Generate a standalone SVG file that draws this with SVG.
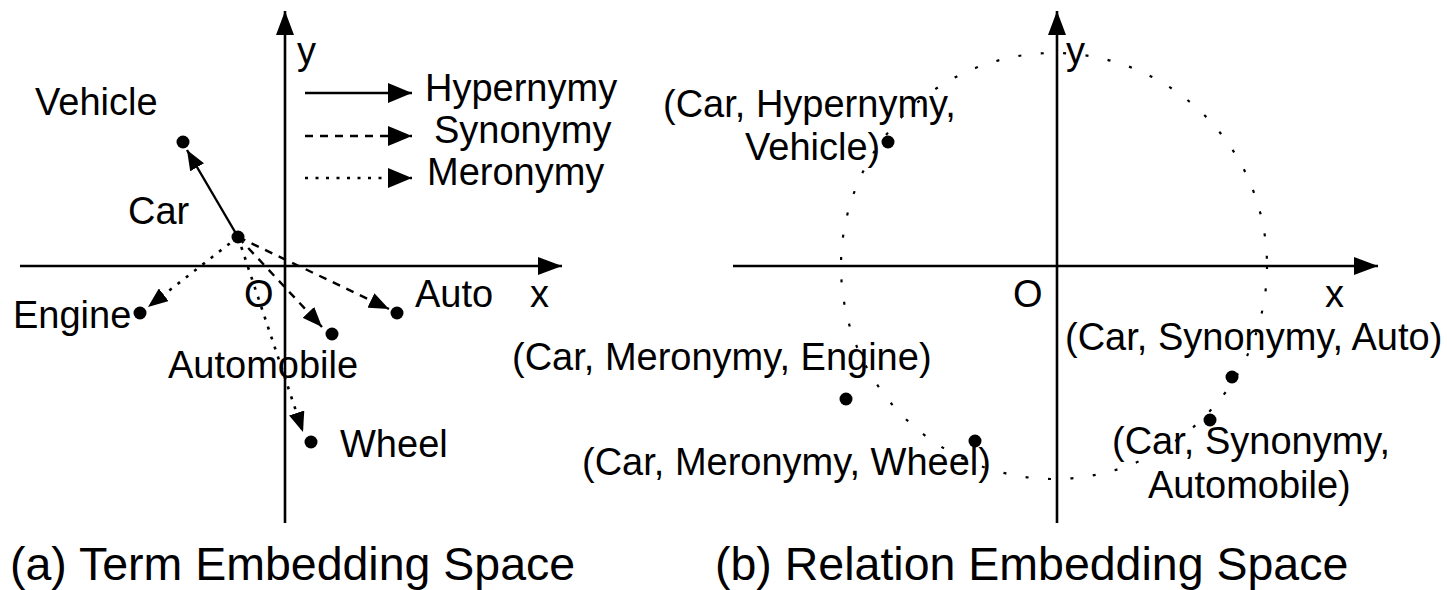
<svg xmlns="http://www.w3.org/2000/svg" width="1447" height="590" viewBox="0 0 1447 590">
  <style>
    text { font-family: "Liberation Sans", Arial, Helvetica, sans-serif; fill: #000; }
    .lbl { font-size: 38px; }
    .cap { font-size: 46.5px; }
    .axis { stroke: #000; stroke-width: 2.6; fill: none; }
    .solid { stroke: #000; stroke-width: 2.4; fill: none; }
    .dash { stroke: #000; stroke-width: 2.4; fill: none; stroke-dasharray: 8 7; }
    .dot { stroke: #000; stroke-width: 2.6; fill: none; stroke-dasharray: 3 7.5; }
    .ring { stroke: #000; stroke-width: 2.2; fill: none; stroke-dasharray: 3 19.5; }
    .pt { fill: #000; }
  </style>
  <defs>
    <marker id="axis-head" viewBox="0 0 24 18" refX="24" refY="9" markerWidth="24" markerHeight="18" markerUnits="userSpaceOnUse" orient="auto">
      <path d="M0,0 L24,9 L0,18 Z" fill="#000"/>
    </marker>
    <marker id="head" viewBox="0 0 20 16" refX="20" refY="8" markerWidth="20" markerHeight="16" markerUnits="userSpaceOnUse" orient="auto">
      <path d="M0,0 L20,8 L0,16 Z" fill="#000"/>
    </marker>
    <marker id="legend-head" viewBox="0 0 24 20" refX="24" refY="10" markerWidth="24" markerHeight="20" markerUnits="userSpaceOnUse" orient="auto">
      <path d="M0,0 L24,10 L0,20 Z" fill="#000"/>
    </marker>
  </defs>

  <!-- (a) term embedding space -->
  <g id="axes-a">
    <line class="axis" x1="20" y1="266" x2="562" y2="266" marker-end="url(#axis-head)"/>
    <line class="axis" x1="285" y1="523" x2="285" y2="11" marker-end="url(#axis-head)"/>
    <text class="lbl" x="297" y="64">y</text>
    <text class="lbl" x="530" y="307">x</text>
    <text class="lbl" x="244" y="307">O</text>
  </g>

  <g id="legend">
    <line class="solid" x1="305" y1="93" x2="412" y2="93" marker-end="url(#legend-head)"/>
    <text class="lbl" x="425" y="101">Hypernymy</text>
    <line class="dash" x1="305" y1="136" x2="412" y2="136" marker-end="url(#legend-head)"/>
    <text class="lbl" x="434" y="143">Synonymy</text>
    <line class="dot" x1="305" y1="178" x2="412" y2="178" marker-end="url(#legend-head)"/>
    <text class="lbl" x="427" y="185">Meronymy</text>
  </g>

  <g id="term-edges">
    <line class="solid" x1="238" y1="237" x2="187" y2="150" marker-end="url(#head)"/>
    <line class="dot" x1="238" y1="237" x2="148" y2="307" marker-end="url(#head)"/>
    <line class="dash" x1="238" y1="237" x2="389" y2="309" marker-end="url(#head)"/>
    <line class="dash" x1="238" y1="237" x2="322" y2="327" marker-end="url(#head)"/>
    <line class="dot" x1="238" y1="237" x2="303" y2="432" marker-end="url(#head)"/>
  </g>

  <g id="node-car">
    <circle class="pt" cx="238" cy="237" r="6.5"/>
    <text class="lbl" x="128" y="224">Car</text>
  </g>
  <g id="node-vehicle">
    <circle class="pt" cx="183" cy="142" r="6.5"/>
    <text class="lbl" x="35" y="115">Vehicle</text>
  </g>
  <g id="node-engine">
    <circle class="pt" cx="140" cy="313" r="6.5"/>
    <text class="lbl" x="13" y="328">Engine</text>
  </g>
  <g id="node-auto">
    <circle class="pt" cx="397" cy="313" r="6.5"/>
    <text class="lbl" x="415" y="307">Auto</text>
  </g>
  <g id="node-automobile">
    <circle class="pt" cx="332" cy="334" r="6.5"/>
    <text class="lbl" x="168" y="378">Automobile</text>
  </g>
  <g id="node-wheel">
    <circle class="pt" cx="311" cy="442" r="6.5"/>
    <text class="lbl" x="340" y="457">Wheel</text>
  </g>

  <!-- (b) relation embedding space -->
  <g id="axes-b">
    <line class="axis" x1="733" y1="266" x2="1378" y2="266" marker-end="url(#axis-head)"/>
    <line class="axis" x1="1057" y1="523" x2="1057" y2="11" marker-end="url(#axis-head)"/>
    <text class="lbl" x="1066" y="64">y</text>
    <text class="lbl" x="1325" y="307">x</text>
    <text class="lbl" x="1013" y="307">O</text>
  </g>

  <g id="unit-ring">
    <circle class="ring" cx="1054" cy="266" r="213"/>
  </g>

  <g id="rel-hypernymy-vehicle">
    <circle class="pt" cx="888" cy="142" r="6.5"/>
    <text class="lbl" x="663" y="117">(Car, Hypernymy,</text>
    <text class="lbl" x="745" y="160">Vehicle)</text>
  </g>
  <g id="rel-meronymy-engine">
    <circle class="pt" cx="846" cy="399" r="6.5"/>
    <text class="lbl" x="512" y="370">(Car, Meronymy, Engine)</text>
  </g>
  <g id="rel-meronymy-wheel">
    <circle class="pt" cx="975" cy="441" r="6.5"/>
    <text class="lbl" x="582" y="475">(Car, Meronymy, Wheel)</text>
  </g>
  <g id="rel-synonymy-auto">
    <circle class="pt" cx="1232" cy="377" r="6.5"/>
    <text class="lbl" x="1065" y="350">(Car, Synonymy, Auto)</text>
  </g>
  <g id="rel-synonymy-automobile">
    <circle class="pt" cx="1210" cy="420" r="6.5"/>
    <text class="lbl" x="1112" y="454">(Car, Synonymy,</text>
    <text class="lbl" x="1148" y="498">Automobile)</text>
  </g>

  <g id="captions">
    <text class="cap" x="10" y="580">(a) Term Embedding Space</text>
    <text class="cap" x="715" y="580">(b) Relation Embedding Space</text>
  </g>
</svg>
